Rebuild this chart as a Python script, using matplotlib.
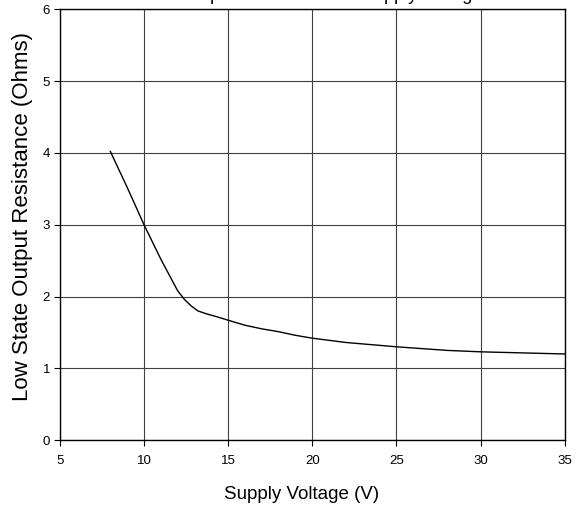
import numpy as np
import matplotlib
matplotlib.use("Agg")
import matplotlib.pyplot as plt

plt.rcParams["font.family"] = ["Liberation Sans", "DejaVu Sans"]

# Values
voltage = [8, 9, 10, 11, 12, 12.4, 12.8, 13.2, 13.7, 14.3, 15, 16, 17, 18, 19, 20,
           22, 25, 28, 30, 35]
resistance = [4.02, 3.52, 3.0, 2.52, 2.08, 1.96, 1.87, 1.80, 1.76, 1.72, 1.67, 1.60,
              1.55, 1.51, 1.46, 1.42, 1.36, 1.30, 1.25, 1.23, 1.20]

x_ticks = [5, 10, 15, 20, 25, 30, 35]
y_ticks = [0, 1, 2, 3, 4, 5, 6]

fig = plt.figure(figsize=(5.87, 5.16), dpi=100)
ax = fig.add_axes([0.102, 0.147, 0.860, 0.835])

ax.plot(voltage, resistance, color="black", linewidth=1.0)

ax.set_xlim(5, 35)
ax.set_ylim(0, 6)
ax.set_xticks(x_ticks)
ax.set_yticks(y_ticks)
ax.grid(True, color="#404040", linewidth=0.8)
ax.set_axisbelow(True)
for s in ax.spines.values():
    s.set_color("black")
    s.set_linewidth(1.0)
ax.tick_params(direction="out", length=4, width=0.8, labelsize=9.5, pad=3)
ax.tick_params(axis="x", pad=7)

ax.set_xlabel("Supply Voltage (V)", fontsize=13.5)
ax.xaxis.set_label_coords(0.479, -0.106)
ax.set_ylabel("Low State Output Resistance (Ohms)", fontsize=16)
ax.yaxis.set_label_coords(-0.053, 0.52)

# Title sits mostly outside the picture, only the descenders show
fig.text(0.492, 1.0, "Low State Output Resistance vs. Supply Voltage",
         ha="center", va="baseline", fontsize=13)

plt.savefig("out.png", dpi=100)
